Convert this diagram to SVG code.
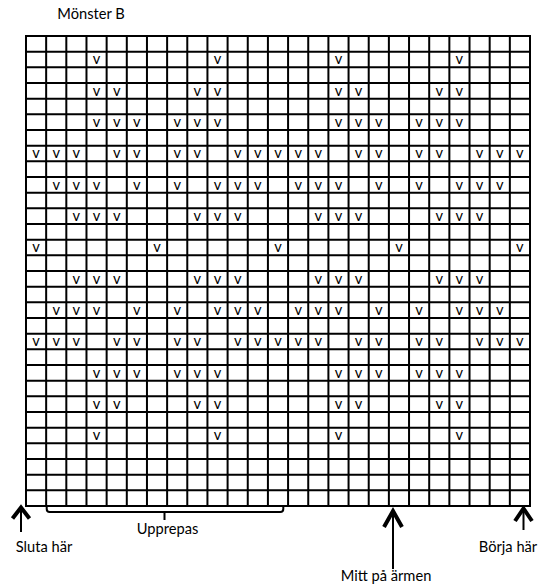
<svg xmlns="http://www.w3.org/2000/svg" width="545" height="584" viewBox="0 0 545 584">
<style>
.grid{fill:none;stroke:#000;stroke-width:2}
.v{font-family:Lato,"Liberation Sans",sans-serif;font-size:14.67px;fill:#000;text-anchor:middle}
.lbl{font-family:Lato,"Liberation Sans",sans-serif;font-size:14.67px;fill:#000;text-anchor:middle}
.head{fill:none;stroke:#000;stroke-width:4;stroke-linejoin:miter;stroke-linecap:butt}
.shaft{fill:none;stroke:#000;stroke-width:2}
.brace{fill:none;stroke:#000;stroke-width:2}
</style>
<rect width="545" height="584" fill="#fff"/>
<g id="title"><text class="lbl" x="91" y="18.5">Mönster B</text></g>
<g id="grid">
<path class="grid" d="M26 36V506M46.16 36V506M66.32 36V506M86.48 36V506M106.64 36V506M126.8 36V506M146.96 36V506M167.12 36V506M187.28 36V506M207.44 36V506M227.6 36V506M247.76 36V506M267.92 36V506M288.08 36V506M308.24 36V506M328.4 36V506M348.56 36V506M368.72 36V506M388.88 36V506M409.04 36V506M429.2 36V506M449.36 36V506M469.52 36V506M489.68 36V506M509.84 36V506M530 36V506"/>
<path class="grid" d="M25 36H531M25 51.67H531M25 67.33H531M25 83H531M25 98.67H531M25 114.33H531M25 130H531M25 145.67H531M25 161.33H531M25 177H531M25 192.67H531M25 208.33H531M25 224H531M25 239.67H531M25 255.33H531M25 271H531M25 286.67H531M25 302.33H531M25 318H531M25 333.67H531M25 349.33H531M25 365H531M25 380.67H531M25 396.33H531M25 412H531M25 427.67H531M25 443.33H531M25 459H531M25 474.67H531M25 490.33H531M25 506H531"/>
</g>
<g id="stitches">
<text class="v" y="64.4"><tspan x="96.6">v</tspan><tspan x="217.5">v</tspan><tspan x="338.5">v</tspan><tspan x="459.4">v</tspan></text>
<text class="v" y="95.7"><tspan x="96.6">v</tspan><tspan x="116.7">v</tspan><tspan x="197.4">v</tspan><tspan x="217.5">v</tspan><tspan x="338.5">v</tspan><tspan x="358.6">v</tspan><tspan x="439.3">v</tspan><tspan x="459.4">v</tspan></text>
<text class="v" y="127"><tspan x="96.6">v</tspan><tspan x="116.7">v</tspan><tspan x="136.9">v</tspan><tspan x="177.2">v</tspan><tspan x="197.4">v</tspan><tspan x="217.5">v</tspan><tspan x="338.5">v</tspan><tspan x="358.6">v</tspan><tspan x="378.8">v</tspan><tspan x="419.1">v</tspan><tspan x="439.3">v</tspan><tspan x="459.4">v</tspan></text>
<text class="v" y="158.4"><tspan x="36">v</tspan><tspan x="56.2">v</tspan><tspan x="76.4">v</tspan><tspan x="116.7">v</tspan><tspan x="136.9">v</tspan><tspan x="177.2">v</tspan><tspan x="197.4">v</tspan><tspan x="237.7">v</tspan><tspan x="257.8">v</tspan><tspan x="278">v</tspan><tspan x="298.2">v</tspan><tspan x="318.3">v</tspan><tspan x="358.6">v</tspan><tspan x="378.8">v</tspan><tspan x="419.1">v</tspan><tspan x="439.3">v</tspan><tspan x="479.6">v</tspan><tspan x="499.8">v</tspan><tspan x="519.9">v</tspan></text>
<text class="v" y="189.7"><tspan x="56.2">v</tspan><tspan x="76.4">v</tspan><tspan x="96.6">v</tspan><tspan x="136.9">v</tspan><tspan x="177.2">v</tspan><tspan x="217.5">v</tspan><tspan x="237.7">v</tspan><tspan x="257.8">v</tspan><tspan x="298.2">v</tspan><tspan x="318.3">v</tspan><tspan x="338.5">v</tspan><tspan x="378.8">v</tspan><tspan x="419.1">v</tspan><tspan x="459.4">v</tspan><tspan x="479.6">v</tspan><tspan x="499.8">v</tspan></text>
<text class="v" y="221"><tspan x="76.4">v</tspan><tspan x="96.6">v</tspan><tspan x="116.7">v</tspan><tspan x="197.4">v</tspan><tspan x="217.5">v</tspan><tspan x="237.7">v</tspan><tspan x="318.3">v</tspan><tspan x="338.5">v</tspan><tspan x="358.6">v</tspan><tspan x="439.3">v</tspan><tspan x="459.4">v</tspan><tspan x="479.6">v</tspan></text>
<text class="v" y="252.4"><tspan x="36">v</tspan><tspan x="157">v</tspan><tspan x="278">v</tspan><tspan x="399">v</tspan><tspan x="519.9">v</tspan></text>
<text class="v" y="283.7"><tspan x="76.4">v</tspan><tspan x="96.6">v</tspan><tspan x="116.7">v</tspan><tspan x="197.4">v</tspan><tspan x="217.5">v</tspan><tspan x="237.7">v</tspan><tspan x="318.3">v</tspan><tspan x="338.5">v</tspan><tspan x="358.6">v</tspan><tspan x="439.3">v</tspan><tspan x="459.4">v</tspan><tspan x="479.6">v</tspan></text>
<text class="v" y="315"><tspan x="56.2">v</tspan><tspan x="76.4">v</tspan><tspan x="96.6">v</tspan><tspan x="136.9">v</tspan><tspan x="177.2">v</tspan><tspan x="217.5">v</tspan><tspan x="237.7">v</tspan><tspan x="257.8">v</tspan><tspan x="298.2">v</tspan><tspan x="318.3">v</tspan><tspan x="338.5">v</tspan><tspan x="378.8">v</tspan><tspan x="419.1">v</tspan><tspan x="459.4">v</tspan><tspan x="479.6">v</tspan><tspan x="499.8">v</tspan></text>
<text class="v" y="346.4"><tspan x="36">v</tspan><tspan x="56.2">v</tspan><tspan x="76.4">v</tspan><tspan x="116.7">v</tspan><tspan x="136.9">v</tspan><tspan x="177.2">v</tspan><tspan x="197.4">v</tspan><tspan x="237.7">v</tspan><tspan x="257.8">v</tspan><tspan x="278">v</tspan><tspan x="298.2">v</tspan><tspan x="318.3">v</tspan><tspan x="358.6">v</tspan><tspan x="378.8">v</tspan><tspan x="419.1">v</tspan><tspan x="439.3">v</tspan><tspan x="479.6">v</tspan><tspan x="499.8">v</tspan><tspan x="519.9">v</tspan></text>
<text class="v" y="377.7"><tspan x="96.6">v</tspan><tspan x="116.7">v</tspan><tspan x="136.9">v</tspan><tspan x="177.2">v</tspan><tspan x="197.4">v</tspan><tspan x="217.5">v</tspan><tspan x="338.5">v</tspan><tspan x="358.6">v</tspan><tspan x="378.8">v</tspan><tspan x="419.1">v</tspan><tspan x="439.3">v</tspan><tspan x="459.4">v</tspan></text>
<text class="v" y="409"><tspan x="96.6">v</tspan><tspan x="116.7">v</tspan><tspan x="197.4">v</tspan><tspan x="217.5">v</tspan><tspan x="338.5">v</tspan><tspan x="358.6">v</tspan><tspan x="439.3">v</tspan><tspan x="459.4">v</tspan></text>
<text class="v" y="440.4"><tspan x="96.6">v</tspan><tspan x="217.5">v</tspan><tspan x="338.5">v</tspan><tspan x="459.4">v</tspan></text>
</g>
<g id="connectors">
<path class="brace" d="M46.7 506V509Q46.7 512 49.7 512H280.3Q283.3 512 283.3 509V506M164.5 512V520"/>
<path class="shaft" d="M21 508V532"/>
<path class="head" d="M12.5 518.5L21 507.5L29.5 518.5"/>
<path class="shaft" d="M393 511V569"/>
<path class="head" d="M384 527L393 511L402 527"/>
<path class="shaft" d="M523.5 509V530"/>
<path class="head" d="M515 521L523.5 508.5L532 521"/>
</g>
<g id="label-upprepas"><text class="lbl" x="167.5" y="534">Upprepas</text></g>
<g id="label-sluta"><text class="lbl" x="44" y="551.5">Sluta här</text></g>
<g id="label-mitt"><text class="lbl" x="386" y="581">Mitt på ärmen</text></g>
<g id="label-borja"><text class="lbl" x="508" y="551.5">Börja här</text></g>
</svg>
